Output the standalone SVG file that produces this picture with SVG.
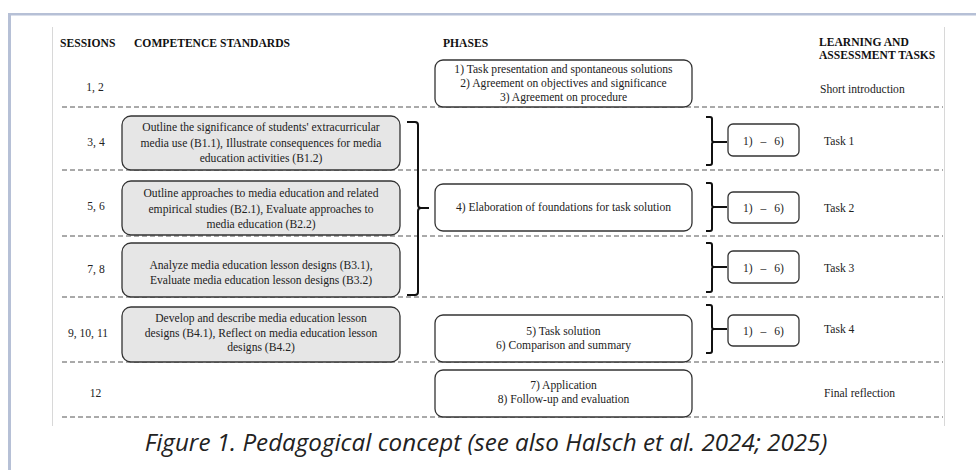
<svg xmlns="http://www.w3.org/2000/svg" width="976" height="470" viewBox="0 0 976 470">
<style>
.t{font-family:"Liberation Serif","Times New Roman",serif;font-size:11.6px;fill:#222}
.h{font-family:"Liberation Serif","Times New Roman",serif;font-size:11.6px;font-weight:bold;fill:#111}
.c{text-anchor:middle}
.s{word-spacing:5px}
.cap{font-family:"Open Sans","Noto Sans",sans-serif;font-style:italic;font-size:24.2px;fill:#222;text-anchor:middle}
.dash{stroke:#555;stroke-width:1;stroke-dasharray:5 3;fill:none}
.g{fill:#e6e6e6;stroke:#333;stroke-width:1.3}
.w{fill:#fff;stroke:#333;stroke-width:1.3}
.br{fill:none;stroke:#111;stroke-width:2}
</style>
<rect x="0" y="0" width="976" height="470" fill="#fff"/>
<rect x="8" y="13" width="968" height="2.5" fill="#b6c0d6"/>
<rect x="8" y="13" width="3" height="457" fill="#b6c0d6"/>
<line x1="52.5" y1="27" x2="52.5" y2="426" stroke="#d8d8d8" stroke-width="1"/>
<line x1="944.5" y1="27" x2="944.5" y2="426" stroke="#d8d8d8" stroke-width="1"/>

<g id="headers">
<text class="h" x="60" y="47">SESSIONS</text>
<text class="h" x="134" y="47">COMPETENCE STANDARDS</text>
<text class="h" x="443" y="47">PHASES</text>
<text class="h" x="819" y="46">LEARNING AND</text>
<text class="h" x="819" y="59">ASSESSMENT TASKS</text>
</g>

<g id="connectors">
<line class="dash" x1="62" y1="107" x2="943" y2="107"/>
<line class="dash" x1="62" y1="170" x2="943" y2="170"/>
<line class="dash" x1="62" y1="236" x2="943" y2="236"/>
<line class="dash" x1="62" y1="297" x2="943" y2="297"/>
<line class="dash" x1="62" y1="362" x2="943" y2="362"/>
<line class="dash" x1="62" y1="417" x2="943" y2="417"/>
<path class="br" d="M407,122 H415 Q418,122 418,125 V205 Q418,208 421,208 H429 M421,208 Q418,208 418,211 V292 Q418,295 415,295 H407"/>
<path class="br" d="M706,117 H710 Q712,117 712,119 V140 Q712,142 714,142 H727 M714,142 Q712,142 712,144 V163 Q712,165 710,165 H706"/>
<path class="br" d="M706,183 H710 Q712,183 712,185 V205 Q712,207 714,207 H727 M714,207 Q712,207 712,209 V229 Q712,231 710,231 H706"/>
<path class="br" d="M706,243 H710 Q712,243 712,245 V265 Q712,267 714,267 H727 M714,267 Q712,267 712,269 V290 Q712,292 710,292 H706"/>
<path class="br" d="M706,305 H710 Q712,305 712,307 V327 Q712,329 714,329 H727 M714,329 Q712,329 712,331 V351 Q712,353 710,353 H706"/>
</g>

<g id="sessions">
<text class="t c" x="95" y="91">1, 2</text>
<text class="t c" x="96" y="146">3, 4</text>
<text class="t c" x="96" y="210">5, 6</text>
<text class="t c" x="96" y="273">7, 8</text>
<text class="t c" x="88" y="337">9, 10, 11</text>
<text class="t c" x="95.5" y="397">12</text>
</g>

<g id="comp-b1">
<rect class="g" x="122" y="116" width="278" height="54" rx="9"/>
<text class="t c" x="261" y="131">Outline the significance of students' extracurricular</text>
<text class="t c" x="261" y="147">media use (B1.1), Illustrate consequences for media</text>
<text class="t c" x="261" y="162">education activities (B1.2)</text>
</g>
<g id="comp-b2">
<rect class="g" x="122" y="181" width="278" height="54" rx="9"/>
<text class="t c" x="261" y="197">Outline approaches to media education and related</text>
<text class="t c" x="261" y="213">empirical studies (B2.1), Evaluate approaches to</text>
<text class="t c" x="261" y="228">media education (B2.2)</text>
</g>
<g id="comp-b3">
<rect class="g" x="122" y="243" width="278" height="54" rx="9"/>
<text class="t c" x="261" y="269">Analyze media education lesson designs (B3.1),</text>
<text class="t c" x="261" y="284">Evaluate media education lesson designs (B3.2)</text>
</g>
<g id="comp-b4">
<rect class="g" x="122" y="307" width="278" height="55" rx="9"/>
<text class="t c" x="261" y="322">Develop and describe media education lesson</text>
<text class="t c" x="261" y="337">designs (B4.1), Reflect on media education lesson</text>
<text class="t c" x="261" y="351">designs (B4.2)</text>
</g>

<g id="phase-1-3">
<rect class="w" x="435" y="60" width="257" height="47" rx="8"/>
<text class="t c" x="563.5" y="73">1) Task presentation and spontaneous solutions</text>
<text class="t c" x="563.5" y="87">2) Agreement on objectives and significance</text>
<text class="t c" x="563.5" y="101">3) Agreement on procedure</text>
</g>
<g id="phase-4">
<rect class="w" x="435" y="184" width="257" height="47" rx="8"/>
<text class="t c" x="563.5" y="211">4) Elaboration of foundations for task solution</text>
</g>
<g id="phase-5-6">
<rect class="w" x="435" y="315" width="257" height="47" rx="8"/>
<text class="t c" x="563.5" y="335">5) Task solution</text>
<text class="t c" x="563.5" y="349">6) Comparison and summary</text>
</g>
<g id="phase-7-8">
<rect class="w" x="435" y="370" width="257" height="47" rx="8"/>
<text class="t c" x="563.5" y="389">7) Application</text>
<text class="t c" x="563.5" y="403">8) Follow-up and evaluation</text>
</g>

<g id="steps-1">
<rect class="w" x="728" y="124" width="71" height="32" rx="5"/>
<text class="t c s" x="763.5" y="145">1) – 6)</text>
</g>
<g id="steps-2">
<rect class="w" x="728" y="192" width="71" height="31" rx="5"/>
<text class="t c s" x="763.5" y="212">1) – 6)</text>
</g>
<g id="steps-3">
<rect class="w" x="728" y="251" width="71" height="32" rx="5"/>
<text class="t c s" x="763.5" y="272">1) – 6)</text>
</g>
<g id="steps-4">
<rect class="w" x="728" y="315" width="71" height="31" rx="5"/>
<text class="t c s" x="763.5" y="335">1) – 6)</text>
</g>

<g id="tasks">
<text class="t" x="820" y="93">Short introduction</text>
<text class="t" x="824" y="145">Task 1</text>
<text class="t" x="824" y="212">Task 2</text>
<text class="t" x="824" y="272">Task 3</text>
<text class="t" x="824" y="333">Task 4</text>
<text class="t" x="824" y="397">Final reflection</text>
</g>

<text class="cap" x="486" y="451">Figure 1. Pedagogical concept (see also Halsch et al. 2024; 2025)</text>
</svg>
